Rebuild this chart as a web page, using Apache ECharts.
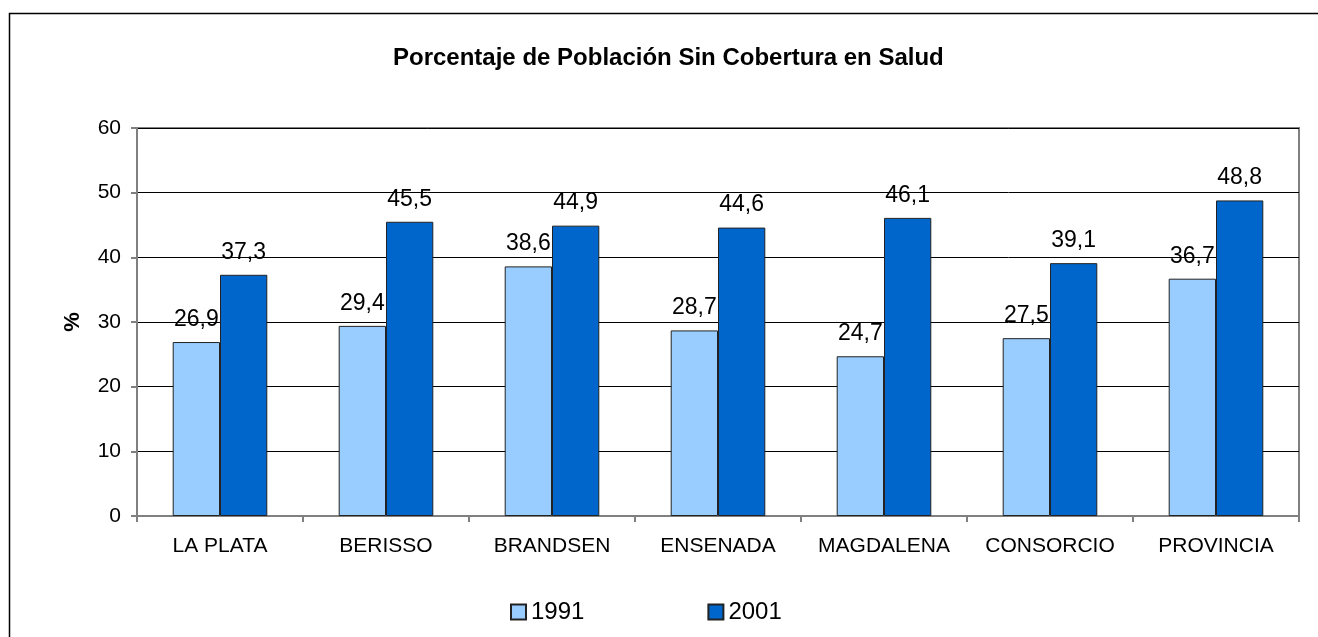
<!DOCTYPE html>
<html>
<head>
<meta charset="utf-8">
<script src="https://cdn.jsdelivr.net/npm/echarts@6/dist/echarts.min.js"></script>
<style>
html,body{margin:0;padding:0;background:#fff;}
#chart{width:1318px;height:637px;}
</style>
</head>
<body>
<div id="chart"></div>
<script>
const categories = ['LA PLATA','BERISSO','BRANDSEN','ENSENADA','MAGDALENA','CONSORCIO','PROVINCIA'];
const values1991 = [26.9, 29.4, 38.6, 28.7, 24.7, 27.5, 36.7];
const values2001 = [37.3, 45.5, 44.9, 44.6, 46.1, 39.1, 48.8];
const yTicks = [0, 10, 20, 30, 40, 50, 60];
const titleText = 'Porcentaje de Población Sin Cobertura en Salud';

const FONT = '"Liberation Sans", Arial, sans-serif';
const chart = echarts.init(document.getElementById('chart'), null, {renderer: 'canvas'});
const fmt = p => p.value.toFixed(1).replace('.', ',');

const labelCfg = {
  show: true, position: 'top', distance: 11,
  fontFamily: FONT, fontSize: 23, color: '#000', formatter: fmt
};

chart.setOption({
  animation: false,
  backgroundColor: '#fff',
  graphic: [{
    type: 'rect', left: 7, top: 11, z: -1,
    shape: {width: 1400, height: 700},
    style: {fill: 'none', stroke: '#000', lineWidth: 1.5}
  }],
  title: {
    text: titleText, left: 388, top: 41,
    textStyle: {fontFamily: FONT, fontSize: 24, fontWeight: 'bold', color: '#000'}
  },
  legend: {
    data: ['1991', '2001'], left: 505, top: 595,
    icon: 'rect', itemWidth: 15, itemHeight: 15, itemGap: 123,
    textStyle: {fontFamily: FONT, fontSize: 24, color: '#000'}
  },
  grid: {
    left: 137, right: 19, top: 128, bottom: 121,
    show: true, borderColor: '#808080', borderWidth: 2, backgroundColor: '#fff'
  },
  xAxis: {
    type: 'category', data: categories,
    axisLine: {lineStyle: {color: '#808080', width: 2}},
    axisTick: {show: true, interval: 0, length: 6, lineStyle: {color: '#808080', width: 2}},
    axisLabel: {interval: 0, fontFamily: FONT, fontSize: 21, color: '#000', margin: 20}
  },
  yAxis: {
    type: 'value', min: yTicks[0], max: yTicks[yTicks.length - 1], interval: 10,
    name: '%', nameLocation: 'middle', nameGap: 53, nameRotate: 90,
    nameTextStyle: {fontFamily: FONT, fontSize: 22, fontWeight: 'bold', color: '#000'},
    axisLine: {show: true, lineStyle: {color: '#808080', width: 2}},
    axisTick: {show: true, length: 6, lineStyle: {color: '#808080', width: 2}},
    splitLine: {lineStyle: {color: '#000', width: 1}},
    axisLabel: {fontFamily: FONT, fontSize: 21, color: '#000', margin: 16}
  },
  series: [
    {
      name: '1991', type: 'bar', data: values1991,
      barGap: '0%', barCategoryGap: '43%',
      itemStyle: {color: '#99CCFF', borderColor: '#222', borderWidth: 1},
      label: labelCfg
    },
    {
      name: '2001', type: 'bar', data: values2001,
      itemStyle: {color: '#0066CC', borderColor: '#222', borderWidth: 1},
      label: labelCfg
    }
  ]
});
</script>
</body>
</html>
